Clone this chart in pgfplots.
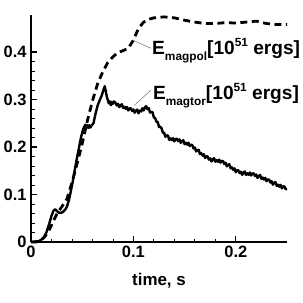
\documentclass[border=0pt]{standalone}
\usepackage{pgfplots}
\pgfplotsset{compat=1.18}
\usepackage{fontspec}
\setmainfont{Liberation Sans}
\newcommand{\lab}[1]{{\bfseries\fontsize{19.2}{21}\selectfont E\raisebox{-6.2bp}{\fontsize{11.9}{12}\selectfont #1}[10\raisebox{7.9bp}{\fontsize{11.9}{12}\selectfont 51} ergs]}}
\begin{document}
\begin{tikzpicture}
\begin{axis}[
  at={(0,0)}, anchor=origin,
  scale only axis, width=256bp, height=227bp,
  xmin=0, xmax=0.25, ymin=0, ymax=0.478,
  enlargelimits=false, clip=false,
  axis x line=bottom, axis y line=left,
  axis line style={-, line width=2bp},
  xtick={0,0.1,0.2}, ytick={0,0.1,0.2,0.3,0.4},
  minor tick num=4,
  tick align=inside,
  major tick length=6bp, minor tick length=3.5bp,
  every tick/.style={black, line width=1.3bp},
  minor tick style={line width=0.8bp},
  /pgf/number format/assume math mode=true,
  tick label style={font=\bfseries\fontsize{16.5}{18}\selectfont},
  xticklabel style={yshift=-1bp},
  yticklabel style={xshift=-1bp},
  xlabel={time, s},
  xlabel style={font=\bfseries\fontsize{17}{18}\selectfont, at={(axis description cs:0.5,0)}, anchor=base, yshift=-43bp},
]
% E_magpol (dashed)
\addplot[black, line width=2.8bp, dash pattern=on 7bp off 4.5bp] coordinates {
(0,0) (0.005,0) (0.009,0.003) (0.013,0.010) (0.017,0.022) (0.021,0.040)
(0.025,0.058) (0.030,0.074) (0.035,0.090) (0.040,0.125) (0.045,0.165)
(0.050,0.207) (0.055,0.255) (0.060,0.297) (0.065,0.333) (0.070,0.358)
(0.075,0.378) (0.080,0.390) (0.085,0.399) (0.090,0.403) (0.095,0.408)
(0.100,0.425) (0.105,0.450) (0.110,0.463) (0.115,0.469) (0.120,0.472)
(0.130,0.474) (0.140,0.472) (0.150,0.467) (0.160,0.463) (0.170,0.460)
(0.180,0.460) (0.190,0.462) (0.200,0.461) (0.210,0.463) (0.220,0.465)
(0.230,0.460) (0.240,0.458) (0.250,0.458)
};
% E_magtor (solid, noisy)
\addplot[black, line width=2.4bp, line join=round] coordinates {
(0,0) (0.008,0.002) (0.012,0.008) (0.015,0.020) (0.018,0.040) (0.020,0.055)
(0.022,0.066) (0.0235,0.069) (0.025,0.066) (0.027,0.062) (0.029,0.061)
(0.031,0.063) (0.033,0.067) (0.035,0.074) (0.037,0.088) (0.039,0.108)
(0.041,0.130) (0.043,0.155) (0.045,0.178) (0.047,0.200) (0.049,0.222)
(0.051,0.238) (0.053,0.247) (0.054,0.241) (0.055,0.246) (0.056,0.240)
(0.057,0.246) (0.058,0.241) (0.059,0.245) (0.061,0.250) (0.063,0.270)
(0.065,0.287) (0.067,0.298) (0.069,0.308) (0.071,0.322) (0.072,0.328)
(0.073,0.318) (0.074,0.306) (0.075,0.299) (0.076,0.292) (0.077,0.296)
(0.078,0.288) (0.079,0.295) (0.080,0.291) (0.081,0.296)
(0.0825,0.293) (0.08375,0.2875) (0.085,0.291) (0.08625,0.284) (0.0875,0.288)
(0.08875,0.290) (0.09,0.282) (0.09125,0.28475) (0.0925,0.2805) (0.09375,0.28425)
(0.095,0.277) (0.09625,0.28125) (0.0975,0.2815) (0.09875,0.27575) (0.1,0.279)
(0.10125,0.27225) (0.1025,0.2765) (0.10375,0.27875) (0.105,0.271) (0.10625,0.2765)
(0.1075,0.275) (0.10875,0.2815) (0.11,0.277) (0.11125,0.2835) (0.1125,0.286)
(0.11375,0.2795) (0.115,0.282) (0.11625,0.2725) (0.1175,0.274) (0.11875,0.273)
(0.12,0.262) (0.12125,0.261) (0.1225,0.253) (0.12375,0.253) (0.125,0.242)
(0.12625,0.24275) (0.1275,0.2395) (0.12875,0.23025) (0.13,0.230) (0.13125,0.2215)
(0.1325,0.224) (0.13375,0.2245) (0.135,0.215) (0.13625,0.21825) (0.1375,0.2145)
(0.13875,0.21875) (0.14,0.212) (0.14125,0.21675) (0.1425,0.2175) (0.14375,0.21225)
(0.145,0.216) (0.14625,0.20875) (0.1475,0.2125) (0.14875,0.21425) (0.15,0.206)
(0.15125,0.209) (0.1525,0.205) (0.15375,0.209) (0.155,0.202) (0.15625,0.205)
(0.1575,0.204) (0.15875,0.197) (0.16,0.199) (0.16125,0.19075) (0.1625,0.1935)
(0.16375,0.19425) (0.165,0.185) (0.16625,0.187) (0.1675,0.182) (0.16875,0.185)
(0.17,0.177) (0.17125,0.1805) (0.1725,0.180) (0.17375,0.1735) (0.175,0.176)
(0.17625,0.1695) (0.1775,0.174) (0.17875,0.1765) (0.18,0.169) (0.18125,0.1725)
(0.1825,0.169) (0.18375,0.1735) (0.185,0.167) (0.18625,0.17075) (0.1875,0.1705)
(0.18875,0.16425) (0.19,0.167) (0.19125,0.15925) (0.1925,0.1625) (0.19375,0.16375)
(0.195,0.155) (0.19625,0.157) (0.1975,0.152) (0.19875,0.155) (0.2,0.147)
(0.20125,0.151) (0.2025,0.151) (0.20375,0.145) (0.205,0.148) (0.20625,0.1415)
(0.2075,0.146) (0.20875,0.1485) (0.21,0.141) (0.21125,0.14475) (0.2125,0.1415)
(0.21375,0.14625) (0.215,0.140) (0.21625,0.14425) (0.2175,0.1445) (0.21875,0.13875)
(0.22,0.142) (0.22125,0.135) (0.2225,0.139) (0.22375,0.141) (0.225,0.133)
(0.22625,0.13575) (0.2275,0.1315) (0.22875,0.13525) (0.23,0.128) (0.23125,0.13175)
(0.2325,0.1315) (0.23375,0.12525) (0.235,0.128) (0.23625,0.12075) (0.2375,0.1245)
(0.23875,0.12625) (0.24,0.118) (0.24125,0.12075) (0.2425,0.1165) (0.24375,0.12025)
(0.245,0.113) (0.24625,0.117) (0.2475,0.117) (0.24875,0.111) (0.25,0.112)
};
% leader lines
\addplot[gray, line width=0.6bp] coordinates {(0.0993,0.425) (0.1172,0.408)};
\addplot[gray, line width=0.6bp] coordinates {(0.101,0.288) (0.1172,0.320)};
\node[anchor=base west, inner sep=0pt] at (axis cs:0.1182,0.395) {\lab{magpol}};
\node[anchor=base west, inner sep=0pt] at (axis cs:0.1190,0.300) {\lab{magtor}};
\end{axis}
\pgfresetboundingbox
\useasboundingbox (-31bp,-61bp) rectangle (272bp,242bp);
\end{tikzpicture}
\end{document}
